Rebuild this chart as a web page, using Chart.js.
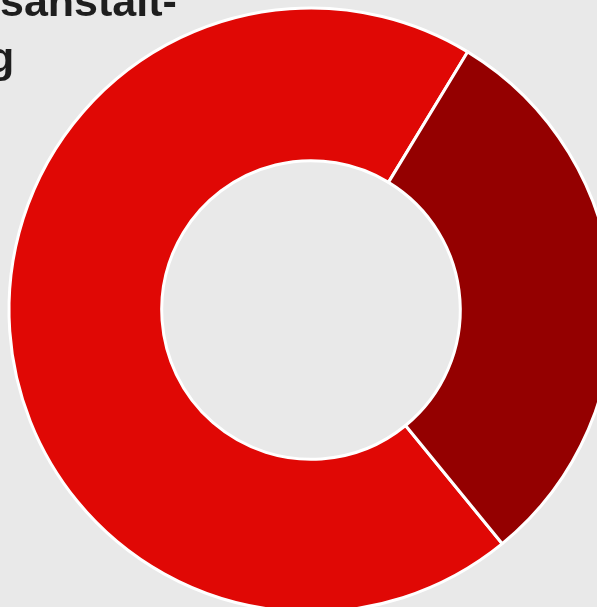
<!DOCTYPE html>
<html>
<head>
<meta charset="utf-8">
<script src="https://cdn.jsdelivr.net/npm/chart.js@4"></script>
<style>
  html, body { margin: 0; padding: 0; background: #e9e9e9; overflow: hidden; width: 597px; height: 607px; }
  #wrap { position: absolute; left: 0; top: 0; width: 622px; height: 620px; }
  .title { position: absolute; font: bold 43px "Liberation Sans", Arial, sans-serif; color: #1e1e1e; white-space: nowrap; z-index: 2; }
  #t1 { left: 0px; top: -23px; }
  #t2 { left: -12px; top: 33px; }
</style>
</head>
<body>
<div class="title" id="t1">sanstalt-</div>
<div class="title" id="t2">g</div>
<div id="wrap"><canvas id="chart" width="622" height="620"></canvas></div>
<script>
// Werte aus dem Bild geschätzt
const labels = ["Anteil A", "Anteil B"];
const values = [69.6, 30.4];
const colors = ["#e00805", "#940000"];

document.addEventListener("DOMContentLoaded", function () {
  const ctx = document.getElementById("chart").getContext("2d");
  new Chart(ctx, {
    type: "doughnut",
    data: {
      labels: labels,
      datasets: [{
        data: values,
        backgroundColor: colors,
        borderColor: "#ffffff",
        borderWidth: 3,
      }],
    },
    options: {
      responsive: false,
      animation: false,
      rotation: 140.7,
      radius: 302,
      cutout: 152.5,
      layout: { padding: 0 },
      plugins: {
        legend: { display: false },
        tooltip: { enabled: false },
      },
    },
  });
});
</script>
</body>
</html>
